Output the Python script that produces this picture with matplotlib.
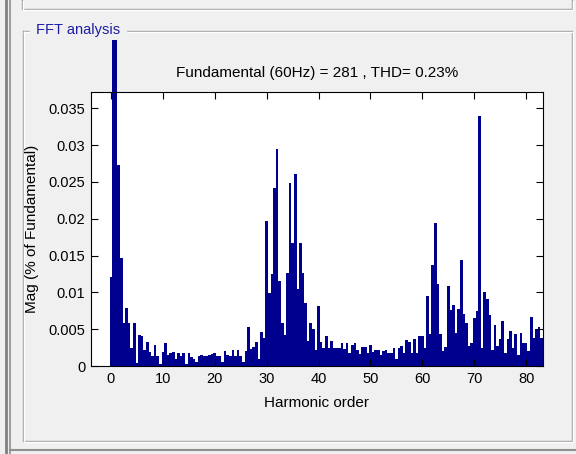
import numpy as np
import matplotlib
matplotlib.use("Agg")
import matplotlib.pyplot as plt
from matplotlib.lines import Line2D

plt.rcParams['font.family'] = ['Liberation Sans', 'DejaVu Sans']

# harmonic spectrum, one bar every half order from 0 to 83
mags = [0.0121, 0.0443, 0.0443, 0.0273, 0.0146, 0.0058, 0.0079, 0.0058, 0.0025, 0.0059,
        0.0004, 0.0042, 0.0041, 0.0022, 0.0033, 0.0019, 0.0013, 0.0029, 0.0013, 0.0003,
        0.0019, 0.0031, 0.0015, 0.0017, 0.0019, 0.0009, 0.0017, 0.0013, 0.0018, 0.0003,
        0.0017, 0.0012, 0.0010, 0.0006, 0.0013, 0.0015, 0.0013, 0.0014, 0.0015, 0.0016,
        0.0017, 0.0014, 0.0013, 0.0006, 0.0020, 0.0015, 0.0013, 0.0022, 0.0014, 0.0022,
        0.0014, 0.0006, 0.0020, 0.0053, 0.0023, 0.0026, 0.0032, 0.0010, 0.0046, 0.0038,
        0.0197, 0.0099, 0.0125, 0.0241, 0.0294, 0.0115, 0.0059, 0.0042, 0.0126, 0.0249,
        0.0167, 0.0260, 0.0105, 0.0167, 0.0126, 0.0086, 0.0034, 0.0058, 0.0050, 0.0022,
        0.0081, 0.0032, 0.0025, 0.0041, 0.0025, 0.0034, 0.0025, 0.0024, 0.0025, 0.0031,
        0.0023, 0.0031, 0.0017, 0.0028, 0.0031, 0.0022, 0.0016, 0.0026, 0.0026, 0.0017,
        0.0029, 0.0019, 0.0022, 0.0022, 0.0015, 0.0021, 0.0022, 0.0017, 0.0018, 0.0024,
        0.0010, 0.0024, 0.0027, 0.0017, 0.0035, 0.0032, 0.0017, 0.0036, 0.0017, 0.0041,
        0.0041, 0.0024, 0.0095, 0.0043, 0.0137, 0.0194, 0.0112, 0.0043, 0.0020, 0.0026,
        0.0108, 0.0076, 0.0083, 0.0045, 0.0077, 0.0144, 0.0071, 0.0059, 0.0027, 0.0031,
        0.0065, 0.0074, 0.0340, 0.0025, 0.0101, 0.0091, 0.0069, 0.0022, 0.0056, 0.0027,
        0.0036, 0.0061, 0.0017, 0.0036, 0.0047, 0.0025, 0.0043, 0.0015, 0.0045, 0.0031,
        0.0031, 0.0020, 0.0067, 0.0038, 0.0050, 0.0053, 0.0038]
orders = np.arange(len(mags)) * 0.5

title = "Fundamental (60Hz) = 281 , THD= 0.23%"
xticks = [0, 10, 20, 30, 40, 50, 60, 70, 80]
yticks = [0, 0.005, 0.01, 0.015, 0.02, 0.025, 0.03, 0.035]
yticklabels = ["0", "0.005", "0.01", "0.015", "0.02", "0.025", "0.03", "0.035"]

W, H = 576, 454
fig = plt.figure(figsize=(W / 100, H / 100), dpi=100, facecolor="#f0f0f0")

# background layer in pixel coordinates for the GUI frame
bg = fig.add_axes([0, 0, 1, 1], zorder=0)
bg.set_xlim(0, W)
bg.set_ylim(H, 0)
bg.axis("off")


def etched(xs, ys):
    bg.add_line(Line2D(xs, ys, color="#a0a0a0", lw=1))
    bg.add_line(Line2D([x + 1 for x in xs], [y + 1 for y in ys], color="white", lw=1))


# window border on the left
bg.add_line(Line2D([6, 6], [0, H], color="#808080", lw=2))
bg.add_line(Line2D([10, 10], [0, H], color="#a0a0a0", lw=1.5))
# previous panel bottom edge
etched([22, 22, 572, 572], [0, 9, 9, 0])
# FFT analysis group box
etched([23, 23, 572, 572, 23], [31, 441, 441, 31, 31])
bg.add_line(Line2D([10, W], [450, 450], color="#909090", lw=1.5))
bg.text(36, 30, "FFT analysis", color="#1c1ca8", fontsize=10.5, va="center",
        ha="left", backgroundcolor="#f0f0f0")

ax = fig.add_axes([91 / W, 1 - 366 / H, 452 / W, 274 / H], zorder=1)
bars = ax.bar(orders, mags, width=0.5, color="#00008f", linewidth=0)
for b in bars:
    b.set_clip_on(False)

ax.set_xlim(-3.85, 83.25)
ax.set_ylim(0, 0.0372)
ax.set_xticks(xticks)
ax.set_yticks(yticks)
ax.set_yticklabels(yticklabels)
ax.tick_params(direction="in", length=5, width=0.8, top=True, right=True,
               labelsize=10.5, pad=4)
for s in ax.spines.values():
    s.set_linewidth(0.8)

ax.set_title(title, fontsize=11, pad=11)
ax.set_xlabel("Harmonic order", fontsize=11)
ax.set_ylabel("Mag (% of Fundamental)", fontsize=11)
ax.xaxis.set_label_coords(0.5, -0.11)
ax.yaxis.set_label_coords(-0.115, 0.5)

fig.savefig("out.png", dpi=100, facecolor=fig.get_facecolor())
